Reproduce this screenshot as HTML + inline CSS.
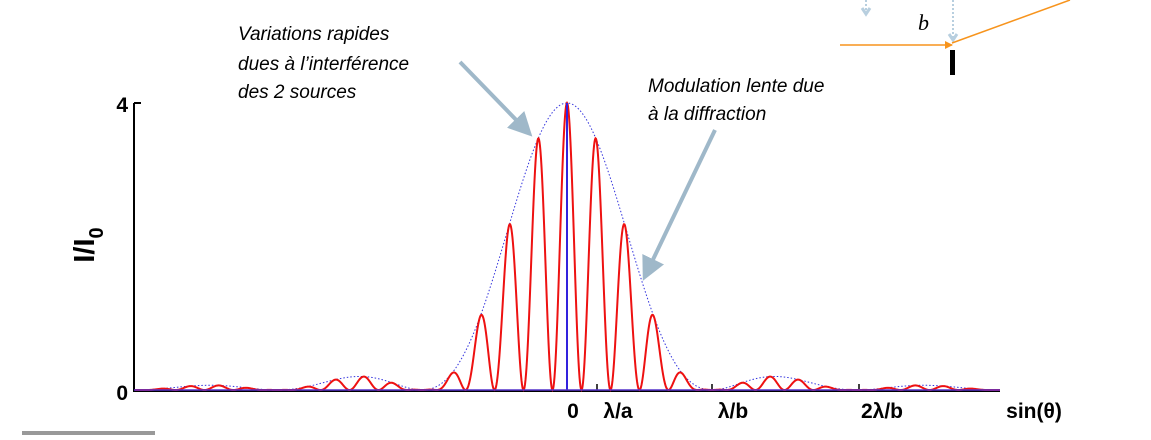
<!DOCTYPE html>
<html><head><style>
body{margin:0;background:#fff;width:1151px;height:435px;overflow:hidden;font-family:"Liberation Sans",sans-serif}
</style></head><body>
<svg id="s" width="1151" height="435" xmlns="http://www.w3.org/2000/svg">
<defs><marker id="ar" markerWidth="6" markerHeight="6" refX="3" refY="3" orient="auto" markerUnits="strokeWidth"><path d="M0,0 L6,3 L0,6 Z" fill="#9fb8c9"/></marker>
<marker id="or" markerWidth="8" markerHeight="8" refX="7" refY="4" orient="auto" markerUnits="userSpaceOnUse"><path d="M0,0 L8,4 L0,8 Z" fill="#f7941d"/></marker></defs>
<line x1="134" y1="103" x2="134" y2="391" stroke="#000" stroke-width="2"/>
<line x1="134" y1="103" x2="141" y2="103" stroke="#000" stroke-width="2"/>
<line x1="133" y1="391" x2="1000" y2="391" stroke="#000" stroke-width="2"/>
<g stroke="#000" stroke-width="1.5"><line x1="597" y1="384" x2="597" y2="391"/><line x1="712" y1="384" x2="712" y2="391"/><line x1="859" y1="384" x2="859" y2="391"/></g>
<path id="env" fill="none" stroke="#3333dd" stroke-width="1" stroke-dasharray="1.5,2"/>
<path id="sig" fill="none" stroke="#ee1111" stroke-width="2"/>
<line x1="567" y1="103" x2="567" y2="390" stroke="#3322dd" stroke-width="2"/>
<line x1="134" y1="390" x2="1000" y2="390" stroke="#5533cc" stroke-width="1.5"/>
<g font-weight="bold" font-size="21" fill="#000">
<text x="128" y="112" text-anchor="end">4</text>
<text x="128" y="400" text-anchor="end">0</text>
<text x="573" y="418" text-anchor="middle">0</text>
<text x="618" y="418" text-anchor="middle">λ/a</text>
<text x="733" y="418" text-anchor="middle">λ/b</text>
<text x="882" y="418" text-anchor="middle">2λ/b</text>
<text x="1034" y="418" text-anchor="middle">sin(θ)</text>
<text transform="translate(94,245) rotate(-90)" font-size="29" text-anchor="middle">I/I<tspan font-size="20" dy="9">0</tspan></text>
</g>
<g font-style="italic" font-size="19" fill="#000">
<text x="238" y="40">Variations rapides</text>
<text x="238" y="70">dues à l’interférence</text>
<text x="238" y="98">des 2 sources</text>
<text x="648" y="92">Modulation lente due</text>
<text x="648" y="120">à la diffraction</text>
</g>
<line x1="460" y1="62" x2="524" y2="128" stroke="#9fb8c9" stroke-width="4" marker-end="url(#ar)"/>
<line x1="715" y1="130" x2="648" y2="270" stroke="#9fb8c9" stroke-width="4" marker-end="url(#ar)"/>
<line x1="866" y1="0" x2="866" y2="12" stroke="#b8cfdf" stroke-width="2" stroke-dasharray="2,2"/>
<path d="M862,8 L866,14 L870,8" stroke="#b8cfdf" stroke-width="3" fill="none"/>
<line x1="953" y1="0" x2="953" y2="38" stroke="#b8cfdf" stroke-width="2" stroke-dasharray="2,2"/>
<path d="M949,34 L953,40 L957,34" stroke="#b8cfdf" stroke-width="3" fill="none"/>
<line x1="840" y1="45" x2="952" y2="45" stroke="#f7941d" stroke-width="1.5" marker-end="url(#or)"/>
<line x1="952" y1="43" x2="1070" y2="0" stroke="#f7941d" stroke-width="1.5"/>
<rect x="950" y="50" width="5" height="25" fill="#000"/>
<text x="918" y="30" font-family="Liberation Serif" font-style="italic" font-size="22">b</text>
<rect x="22" y="431" width="133" height="4" fill="#999"/>
</svg>
<script>
var e="",s="",x0=567,B=145,A=29;
for(var x=135;x<=1000;x+=0.5){var u=Math.PI*(x-x0)/B;var sc=Math.abs(u)<1e-6?1:Math.sin(u)/u;var env=4*sc*sc;var f=Math.cos(Math.PI*(x-x0)/A);var I=env*f*f;
var ye=390-env*71.75,ys=390-I*71.75;e+=(e?"L":"M")+x+","+ye.toFixed(2);s+=(s?"L":"M")+x+","+ys.toFixed(2);}
document.getElementById("env").setAttribute("d",e);document.getElementById("sig").setAttribute("d",s);
</script>
</body></html>
